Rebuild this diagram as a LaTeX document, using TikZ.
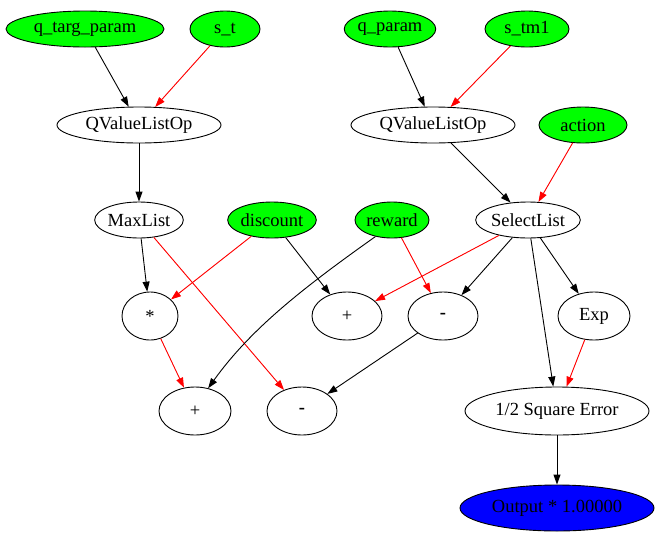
\documentclass[tikz,border=0pt]{standalone}
\usepackage{fontspec}
\setmainfont{Liberation Serif}
\usetikzlibrary{shapes.geometric,arrows.meta}
\definecolor{gvgreen}{HTML}{00FF00}
\definecolor{gvblue}{HTML}{0000FF}
\definecolor{gvred}{HTML}{FF0000}
\tikzset{
  op/.style={ellipse,draw=black,line width=0.9pt,inner sep=0pt,font=\fontsize{18.5}{20}\selectfont,minimum height=36pt},
  inp/.style={op,fill=gvgreen},
  outp/.style={op,fill=gvblue},
  bl/.style={draw=black,line width=0.9pt,-{Triangle[length=10pt,width=7pt]}},
  rd/.style={draw=gvred,fill=gvred,line width=0.9pt,-{Triangle[length=10pt,width=7pt]}},
}
\begin{document}
\begin{tikzpicture}[x=1pt,y=-1pt]
\useasboundingbox (0,0) rectangle (662,539);
% top row
\node[inp,minimum width=158pt] (qtp) at (85,29) {q\_targ\_param};
\node[inp,minimum width=70pt] (st) at (225,29) {s\_t};
\node[inp,minimum width=86pt] (qp) at (390,29) {q\_param};
\node[inp,minimum width=84pt] (stm) at (527,29) {s\_tm1};
% second row
\node[op,minimum width=164pt] (qvl) at (139,125) {QValueListOp};
\node[op,minimum width=164pt] (qvr) at (433,125) {QValueListOp};
\node[inp,minimum width=88pt] (act) at (583,125) {action};
% third row
\node[op,minimum width=86pt] (max) at (139,220) {MaxList};
\node[inp,minimum width=84pt] (disc) at (272,220) {discount};
\node[inp,minimum width=74pt] (rew) at (392,220) {reward};
\node[op,minimum width=98pt] (sel) at (528,220) {SelectList};
% fourth row
\node[op,minimum width=56pt,minimum height=48pt] (mul) at (150,316) {*};
\node[op,minimum width=70pt,minimum height=48pt] (plusm) at (347,316) {+};
\node[op,minimum width=70pt,minimum height=48pt] (minm) at (443,316) {\textbf{-}};
\node[op,minimum width=72pt,minimum height=48pt] (exp) at (594,316) {Exp};
% fifth row
\node[op,minimum width=72pt,minimum height=48pt] (plusb) at (195,411) {+};
\node[op,minimum width=70pt,minimum height=48pt] (minb) at (302,411) {\textbf{-}};
\node[op,minimum width=184pt,minimum height=48pt] (sqe) at (557,411) {1/2 Square Error};
% output
\node[outp,minimum width=194pt,minimum height=46pt] (out) at (557,508) {Output * 1.00000};
% edges
\draw[bl] (qtp) -- (qvl);
\draw[rd] (st) -- (qvl);
\draw[bl] (qp) -- (qvr);
\draw[rd] (stm) -- (qvr);
\draw[bl] (qvl) -- (max);
\draw[bl] (qvr) -- (sel);
\draw[rd] (act) -- (sel);
\draw[bl] (max) -- (mul);
\draw[rd] (disc) -- (mul);
\draw[rd] (max) -- (minb);
\draw[bl] (disc) -- (plusm);
\draw[bl] (rew.225) .. controls (300,290) and (250,330) .. (plusb.60);
\draw[rd] (rew) -- (minm);
\draw[rd] (sel) -- (plusm);
\draw[bl] (sel) -- (minm);
\draw[bl] (sel) -- (exp);
\draw[bl] (sel) -- (sqe);
\draw[rd] (mul) -- (plusb);
\draw[bl] (minm) -- (minb);
\draw[rd] (exp) -- (sqe);
\draw[bl] (sqe) -- (out);
\end{tikzpicture}
\end{document}
